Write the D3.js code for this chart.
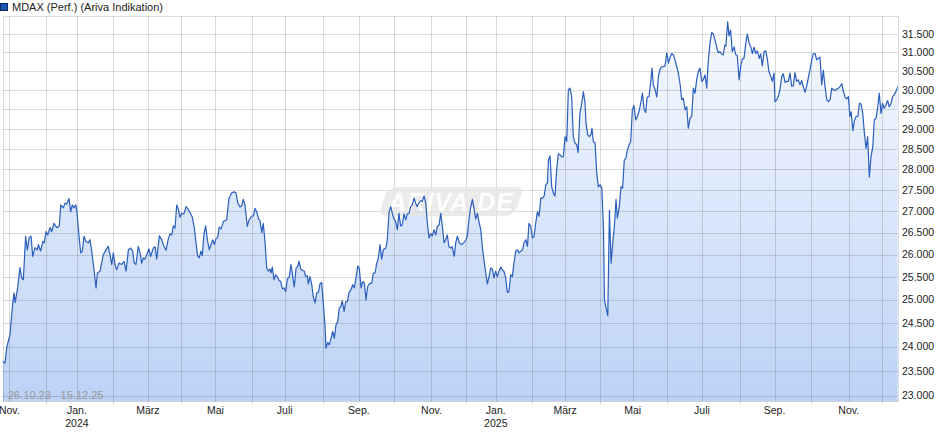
<!DOCTYPE html>
<html><head><meta charset="utf-8">
<script src="https://cdn.jsdelivr.net/npm/d3@7"></script>
<style>html,body{margin:0;padding:0;background:#fff;} svg{display:block;font-family:"Liberation Sans",Arial,sans-serif;}</style>
</head><body><svg id="chart" width="940" height="435"></svg>
<script>
const title = "MDAX (Perf.) (Ariva Indikation)";
const rangeLabel = "26.10.23 - 15.12.25";
const watermark = "ARIVA.DE";
const startDate = "2023-10-26", endDate = "2025-12-15";
const holidays = ["2023-12-25","2023-12-26","2024-01-01","2024-03-29","2024-04-01","2024-05-01",
  "2024-12-24","2024-12-25","2024-12-26","2024-12-31","2025-01-01","2025-04-18","2025-04-21","2025-05-01"];
const monthLabels = ["Jan.","Feb.","März","April","Mai","Juni","Juli","Aug.","Sep.","Okt.","Nov.","Dez."];
const labelledMonths = [0,2,4,6,8,10];
const yTicks = [23000,23500,24000,24500,25000,25500,26000,26500,27000,27500,28000,28500,29000,29500,30000,30500,31000,31500];

// trading session number (0 = 26.10.23) and index level
const sessions = [
0,1.4,2.4,4.4,6.1,6.9,7.5,8.9,10.5,11.5,
12.5,13.9,14.9,16.1,17.2,18.2,19.6,21.0,21.6,23.0,
24.3,25.2,26.3,27.3,28.7,29.7,31.1,32.7,34.3,35.2,
36.7,37.8,38.8,40.2,41.2,42.2,43.2,44.3,44.9,46.3,
47.3,48.3,49.3,50.5,51.9,52.9,54.0,55.4,56.6,57.4,
59.0,61.0,62.6,64.0,65.1,66.1,67.1,68.1,69.1,70.5,
72.2,73.6,74.8,76.2,77.6,78.8,79.8,80.8,82.2,83.3,
84.3,85.3,86.3,87.3,88.7,89.7,91.3,92.4,93.4,95.0,
96.4,97.8,99.0,100.4,101.5,102.5,103.5,104.5,105.5,106.5,
107.5,108.5,109.9,111.2,112.5,113.6,115.0,116.2,117.2,118.2,
119.2,120.2,121.0,122.1,123.1,124.1,125.3,126.3,127.3,128.3,
129.3,130.4,131.3,132.4,133.8,135.8,137.2,138.9,140.4,141.5,
142.5,143.9,144.9,145.9,146.9,148.3,149.4,151.0,152.0,153.0,
154.0,155.0,156.0,157.1,158.0,159.1,160.1,161.1,162.1,162.7,
163.5,164.5,165.5,166.5,167.5,168.6,169.6,170.6,171.6,172.6,
173.8,174.8,175.9,176.8,177.9,178.9,179.7,180.7,181.7,182.9,
183.7,184.7,185.3,186.3,187.4,188.3,189.4,190.4,191.4,192.4,
193.4,194.4,195.4,196.0,197.1,198.0,199.1,200.1,201.1,202.1,
203.1,204.1,205.1,205.9,207.0,208.0,209.0,210.0,211.2,212.2,
213.2,214.2,215.3,216.2,217.3,218.3,219.3,220.3,221.3,222.3,
223.8,224.7,225.8,226.8,227.8,228.8,229.8,230.8,232.3,233.2,
234.3,235.3,236.3,237.3,238.3,239.3,240.3,241.3,242.3,243.3,
244.4,245.3,246.4,247.4,248.4,249.4,250.4,251.4,252.4,253.5,
254.4,255.5,256.5,257.5,258.5,259.5,260.5,261.5,262.6,263.5,
264.6,265.6,266.6,267.6,268.6,269.6,270.6,271.7,272.6,273.8,
274.7,275.7,276.9,278.3,279.7,280.9,281.7,282.8,283.8,284.8,
285.8,286.8,287.8,288.8,289.9,290.8,291.8,292.9,293.9,294.9,
295.9,296.9,297.9,298.9,299.9,300.9,302.0,302.9,303.9,304.9,
306.0,307.0,308.0,309.0,310.0,311.1,312.1,313.1,314.1,315.2,
316.1,317.2,318.2,319.1,320.2,321.2,322.2,323.2,324.2,325.2,
326.3,327.3,328.3,329.3,330.3,330.9,331.9,332.9,333.9,334.9,
335.9,336.9,337.9,339.0,339.9,341.0,342.0,343.0,344.0,345.0,
346.0,347.0,348.1,348.9,350.0,351.1,352.1,353.1,353.7,354.7,
355.7,356.7,357.3,358.1,359.2,360.2,361.2,362.2,363.3,364.3,
364.9,365.9,366.9,367.9,368.9,369.9,370.9,371.9,372.7,373.9,
374.9,375.9,376.9,377.8,378.8,379.8,380.8,381.8,382.8,383.8,
384.8,385.8,386.9,387.9,388.9,389.9,390.8,391.9,392.9,393.7,
394.5,395.6,396.6,397.6,398.6,399.6,400.6,401.6,402.7,403.7,
404.7,405.7,406.7,407.7,408.7,409.7,410.8,411.7,412.7,413.8,
414.8,415.7,416.8,417.8,418.8,419.8,420.8,421.8,422.8,423.9,
424.8,425.9,426.9,427.9,428.9,429.9,430.9,431.9,432.9,433.9,
434.9,435.9,436.9,437.9,438.5,439.6,440.4,441.4,442.4,443.5,
444.5,445.4,446.5,447.5,448.4,449.5,450.6,451.5,452.6,453.6,
454.6,455.6,456.6,457.6,458.7,459.6,460.6,461.7,462.7,463.6,
464.6,465.7,466.7,467.7,468.3,469.3,470.3,471.3,472.4,473.3,
474.4,475.4,476.4,477.4,478.4,479.4,480.4,481.4,482.4,483.5,
484.5,485.5,486.5,487.5,488.5,489.5,490.6,491.5,492.6,493.6,
494.6,495.6,496.6,497.6,498.6,499.7,500.6,501.7,502.7,503.7,
504.8,505.8,506.8,507.8,508.8,509.8,510.8,511.8,512.8,513.7,
514.5,515.5,516.5,517.5,518.6,519.5,520.5,521.5,522.5,523.5,
524.5,525.5,526.5,527.6,528.5,529.6,530.6,531.5,532.6,533.5,
534.5,535.6,536.6,537.5,538.6,539.6,540.6,541.6,543];

const values = [
23700,23660,23980,24250,24940,25150,24940,25220,25710,25480,
25440,26420,26110,26390,26420,25960,26160,26110,26230,26080,
26300,26270,26530,26450,26620,26530,26720,26620,26650,27150,
27080,27190,27170,27300,26990,27150,27080,27150,27030,26420,
26040,26080,26420,26300,26270,26340,26080,25660,25260,25590,
25630,26000,26110,26190,26000,25780,26040,25780,25660,25810,
25780,25850,25630,26110,26150,26080,25810,25780,26190,26040,
25810,25930,25900,26000,26130,25960,26150,26180,25900,26430,
26340,26190,26100,26360,26480,26450,26660,26610,27150,27050,
26860,26950,26940,27110,27050,26970,26860,26610,26270,25980,
25930,26080,25980,26490,26660,26340,26110,26230,26340,26230,
26360,26400,26630,26590,26760,26800,27310,27440,27460,27430,
27200,27100,27130,27280,27150,26650,26800,26890,26890,27070,
26990,26840,26780,26510,26720,26270,25700,25630,25680,25590,
25720,25440,25550,25510,25430,25400,25240,25260,25180,25460,
25510,25780,25510,25280,25700,25740,25850,25680,25650,25630,
25510,25530,25350,25510,25330,25070,24930,25150,25160,25350,
25380,24930,24460,23970,24090,24040,24180,24320,24180,24460,
24530,24820,24860,24980,24750,24960,24960,25160,25220,25330,
25260,25480,25750,25700,25260,25400,25370,25000,25290,25350,
25370,25590,25590,25810,25930,26230,25900,26110,26150,26340,
26990,27110,26940,26820,26760,26570,26950,26660,26680,26940,
26800,26940,26950,27110,27150,27310,27190,27110,27200,27250,
27230,27360,27200,26720,26380,26480,26430,26570,26450,26650,
26680,26950,26650,26270,26340,26450,26180,26150,26180,25960,
26270,26420,26270,26230,26280,26340,26420,26840,27100,27280,
27070,26820,26950,26760,26570,26190,25890,25590,25350,25510,
25700,25680,25480,25630,25510,25630,25720,25660,25630,25510,
25160,25180,25550,25510,25810,26080,26110,26040,26080,26110,
26270,26340,26190,26720,26650,26380,26420,26720,26990,26880,
27310,27310,27360,27630,27670,28230,28330,27580,27430,27360,
27990,28380,28360,28310,28310,28810,28690,30010,30050,29830,
28810,28650,28610,28410,29400,29660,29960,29660,29150,28860,
28810,28860,29020,28690,28650,27910,27580,27630,27550,26570,
25000,24820,24660,27030,25810,26270,26650,27280,26840,27110,
27580,27550,28230,28270,28480,28600,28690,29490,29600,29230,
29320,29440,29660,29920,29510,29420,29820,29830,30200,30580,
30140,30010,29820,30360,30550,30610,30620,30640,30990,30710,
30880,30970,30930,30800,30620,30450,30140,29750,29790,29490,
29570,29020,29280,29320,30050,29920,30270,30490,30580,30230,
30270,30400,30050,30800,31250,31540,31500,31340,31140,30990,
31020,30960,30930,31200,31170,31840,31450,31610,31020,31150,
30930,30930,30270,30620,30820,30840,31250,31500,31250,31150,
30970,31140,30970,31040,30840,30960,30640,31020,31040,30840,
30490,30360,30230,30450,29700,29750,29830,30010,30360,30430,
30200,30230,30230,30450,30100,30110,30460,30230,30270,30140,
30250,30080,29940,30100,30320,30530,30800,30960,30970,30800,
30840,30870,30140,30520,30100,29750,29700,29750,30050,30010,
29990,30030,30050,30100,30170,29960,29820,29770,29830,29320,
29440,28960,29230,29320,29330,29660,29640,29400,28900,28520,
28810,27820,28310,28560,29230,29280,29570,29920,29400,29660,
29530,29620,29730,29570,29640,29830,29880,29960,30110];

// ---------- layout ----------
const pL = 2.7, pR = 897.7, pT = 16, pB = 401.5;

const svg = d3.select("#chart");
const fmtISO = d3.utcFormat("%Y-%m-%d");
const hol = new Set(holidays);
const parseD = d3.utcParse("%Y-%m-%d");
const days = d3.utcDay.range(parseD(startDate), d3.utcDay.offset(parseD(endDate), 1))
  .filter(d => { const w = d.getUTCDay(); return w !== 0 && w !== 6 && !hol.has(fmtISO(d)); });

const x = d3.scaleLinear().domain([0, days.length - 1]).range([pL, pR + 0.5]);
const y = d3.scaleLog().domain([23000, 31500]).range([395.7, 34]);

const de = d3.formatLocale({decimal: ",", thousands: ".", grouping: [3], currency: ["", " €"]});
const fmtY = de.format(",");

const data = sessions.map((s, i) => ({s, v: values[i]}));

const monthStarts = [];
for (let i = 1; i < days.length; i++) {
  if (days[i].getUTCMonth() !== days[i - 1].getUTCMonth()) monthStarts.push({i, d: days[i]});
}

const defs = svg.append("defs");
const grad = defs.append("linearGradient").attr("id", "fillGrad")
  .attr("gradientUnits", "userSpaceOnUse").attr("x1", 0).attr("x2", 0).attr("y1", pT).attr("y2", pB);
grad.append("stop").attr("offset", 0).attr("stop-color", "#f8fbff");
grad.append("stop").attr("offset", 1).attr("stop-color", "#bcd2f6");
defs.append("clipPath").attr("id", "plotClip").append("rect")
  .attr("x", pL).attr("y", pT).attr("width", pR - pL).attr("height", pB - pT);

// area
const area = d3.area().x(d => x(d.s)).y0(pB).y1(d => y(d.v));
svg.append("path").datum(data).attr("clip-path", "url(#plotClip)")
  .attr("d", area).attr("fill", "url(#fillGrad)");

// grid
const grid = svg.append("g").attr("stroke", "#000").attr("stroke-opacity", 0.14).attr("stroke-width", 1);
grid.selectAll("line.h").data(yTicks).join("line").attr("class", "h")
  .attr("x1", pL).attr("x2", pR)
  .attr("y1", d => Math.round(y(d)) + 0.5).attr("y2", d => Math.round(y(d)) + 0.5);
grid.selectAll("line.v").data(monthStarts).join("line").attr("class", "v")
  .attr("x1", d => Math.round(x(d.i)) + 0.5).attr("x2", d => Math.round(x(d.i)) + 0.5)
  .attr("y1", pT).attr("y2", pB);
grid.append("rect").attr("x", Math.round(pL) + 0.5).attr("y", pT + 0.5)
  .attr("width", Math.round(pR) - Math.round(pL)).attr("height", pB - pT - 0.5).attr("fill", "none");

// watermark
const wm = svg.append("g").attr("transform", "translate(451,201.5)");
wm.append("rect").attr("x", -68).attr("y", -14.5).attr("width", 136).attr("height", 29).attr("rx", 8)
  .attr("transform", "skewX(-20)").attr("fill", "#e4e4e4").attr("opacity", 0.75);
wm.append("text").attr("text-anchor", "middle").attr("dy", "0.36em")
  .attr("font-size", 25).attr("font-weight", "bold").attr("font-style", "italic")
  .attr("letter-spacing", 1).attr("fill", "#fff").attr("opacity", 0.95).text(watermark);

// line
const line = d3.line().x(d => x(d.s)).y(d => y(d.v));
svg.append("path").datum(data).attr("clip-path", "url(#plotClip)")
  .attr("d", line).attr("fill", "none").attr("stroke", "#2a5ebd").attr("stroke-width", 1.2)
  .attr("stroke-linejoin", "round");

// y labels
svg.append("g").selectAll("text").data(yTicks).join("text")
  .attr("x", 902).attr("y", d => y(d)).attr("dy", "0.35em")
  .attr("font-size", 10.5).attr("fill", "#222").text(d => fmtY(d));

// x labels & ticks
const lab = monthStarts.filter(d => labelledMonths.includes(d.d.getUTCMonth()));
const unl = monthStarts.filter(d => !labelledMonths.includes(d.d.getUTCMonth()));
svg.append("g").selectAll("line").data(unl).join("line")
  .attr("x1", d => Math.round(x(d.i)) + 0.5).attr("x2", d => Math.round(x(d.i)) + 0.5)
  .attr("y1", pB).attr("y2", pB + 2.5).attr("stroke", "#c8c8c8");
const xl = svg.append("g").attr("font-size", 10.5).attr("fill", "#222").attr("text-anchor", "middle");
xl.selectAll("text.m").data(lab).join("text").attr("class", "m")
  .attr("x", d => x(d.i)).attr("y", 414).text(d => monthLabels[d.d.getUTCMonth()]);
xl.selectAll("text.yr").data(lab.filter(d => d.d.getUTCMonth() === 0)).join("text").attr("class", "yr")
  .attr("x", d => x(d.i)).attr("y", 427).text(d => d.d.getUTCFullYear());

// date range label
svg.append("text").attr("x", 8).attr("y", 399).attr("font-size", 11).attr("fill", "#9a9a9a").text(rangeLabel);

// legend
svg.append("rect").attr("x", 0.5).attr("y", 3.5).attr("width", 7).attr("height", 7)
  .attr("fill", "#1f56b0").attr("stroke", "#0d2a66");
svg.append("text").attr("x", 12).attr("y", 11).attr("font-size", 11).attr("fill", "#222").text(title);
</script></body></html>
